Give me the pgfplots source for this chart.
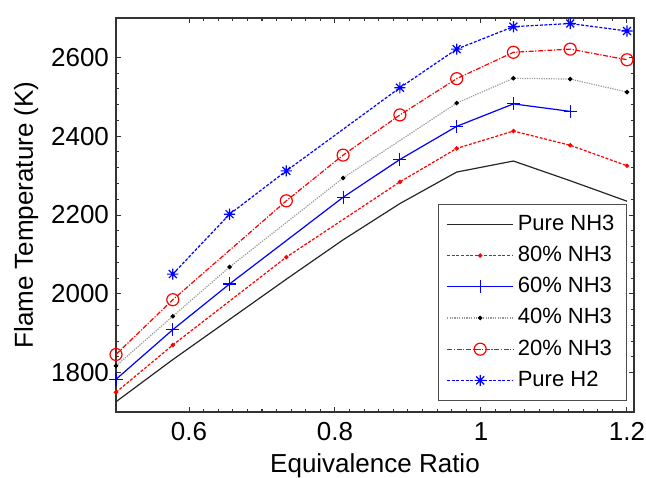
\documentclass[border=0pt]{standalone}
\usepackage{pgfplots}
\pgfplotsset{compat=1.18}
\usepackage{fontspec}
\setmainfont{Liberation Sans}
\pgfdeclareplotmark{mstar}{%
  \pgfpathmoveto{\pgfqpoint{-\pgfplotmarksize}{0pt}}\pgfpathlineto{\pgfqpoint{\pgfplotmarksize}{0pt}}%
  \pgfpathmoveto{\pgfqpoint{0pt}{-\pgfplotmarksize}}\pgfpathlineto{\pgfqpoint{0pt}{\pgfplotmarksize}}%
  \pgfpathmoveto{\pgfqpoint{-0.707\pgfplotmarksize}{-0.707\pgfplotmarksize}}\pgfpathlineto{\pgfqpoint{0.707\pgfplotmarksize}{0.707\pgfplotmarksize}}%
  \pgfpathmoveto{\pgfqpoint{-0.707\pgfplotmarksize}{0.707\pgfplotmarksize}}\pgfpathlineto{\pgfqpoint{0.707\pgfplotmarksize}{-0.707\pgfplotmarksize}}%
  \pgfusepathqstroke}
\definecolor{mred}{RGB}{255,0,0}
\definecolor{mblue}{RGB}{0,0,255}
\begin{document}
\begin{tikzpicture}
\path[use as bounding box] (-58pt,-32.5pt) rectangle (265pt,206pt);
\begin{axis}[
  scale only axis, width=259pt, height=197pt,
  xmin=0.5, xmax=1.2096, ymin=1700, ymax=2700,
  xtick={0.6,0.8,1,1.2}, ytick={1800,2000,2200,2400,2600},
  minor x tick num=9, minor y tick num=4,
  tick align=inside, major tick length=2.5pt, minor tick length=1.5pt,
  axis line style={black!80, line width=0.6pt},
  every tick/.style={black!80, line width=0.5pt},
  scaled ticks=false,
  /pgf/number format/1000 sep={},
  /pgf/number format/assume math mode=true,
  ticklabel style={font=\fontsize{13}{15}\selectfont},
  xticklabel style={yshift=-1.7pt},
  xlabel={Equivalence Ratio}, ylabel={Flame Temperature (K)},
  label style={font=\fontsize{13}{15}\selectfont},
  xlabel style={at={([yshift=-30.3pt]axis description cs:0.5,0)}, anchor=base},
  ylabel style={at={([xshift=-41.5pt]axis description cs:0,0.5)}, anchor=base},
  legend style={at={(axis description cs:0.9865,0.028)}, anchor=south east,
    draw=black!70, line width=0.6pt, inner xsep=4pt, inner ysep=2.2pt,
    font=\fontsize{11}{13}\selectfont,
    nodes={inner xsep=2pt, inner ysep=2.6pt, text height=8.2pt, text depth=2.2pt}},
  legend cell align=left,
  legend image code/.code={\draw[mark repeat=2,mark phase=2,#1] plot coordinates {(0pt,0pt) (16.5pt,0pt) (33pt,0pt)};},
  clip=false,
]
\addplot[black!85, line width=0.6pt, mark=none] coordinates {
(0.5,1726) (0.5778,1833) (0.6556,1935) (0.7333,2037) (0.8111,2137) (0.8889,2229) (0.9667,2309) (1.0444,2337) (1.1222,2287) (1.2,2235)};
\addlegendentry{Pure NH3}
\addplot[mred, line width=0.6pt, dash pattern=on 1.5pt off 0.8pt, mark=*, mark size=0.8pt, mark options={solid}] coordinates {
(0.5,1750) (0.5778,1870) (0.7333,2093) (0.8889,2284) (0.9667,2369) (1.0444,2413) (1.1222,2377) (1.2,2325)};
\addlegendentry{80\% NH3}
\addplot[mblue, line width=0.6pt, mark=+, mark size=3.3pt, mark options={solid}] coordinates {
(0.5,1783) (0.5778,1909) (0.6556,2025) (0.8111,2245) (0.8889,2341) (0.9667,2425) (1.0444,2482) (1.1222,2463)};
\addlegendentry{60\% NH3}
\addplot[gray!80, line width=0.6pt, dash pattern=on 0.6pt off 0.6pt, mark=*, mark size=0.8pt, mark options={solid, black}] coordinates {
(0.5,1817) (0.5778,1943) (0.6556,2068) (0.8111,2294) (0.9667,2484) (1.0444,2547) (1.1222,2545) (1.2,2512)};
\addlegendentry{40\% NH3}
\addplot[mred, line width=0.6pt, dash pattern=on 2.5pt off 0.8pt on 0.6pt off 0.8pt, mark=o, mark size=3pt, mark options={solid}] coordinates {
(0.5,1846) (0.5778,1985) (0.7333,2236) (0.8111,2352) (0.8889,2454) (0.9667,2546) (1.0444,2613) (1.1222,2621) (1.2,2594)};
\addlegendentry{20\% NH3}
\addplot[mblue, line width=0.6pt, dash pattern=on 1.5pt off 0.8pt, mark=mstar, mark size=2.8pt, mark options={solid}] coordinates {
(0.5778,2050) (0.6556,2202) (0.7333,2312) (0.8889,2523) (0.9667,2621) (1.0444,2678) (1.1222,2686) (1.2,2667)};
\addlegendentry{Pure H2}
\end{axis}
\end{tikzpicture}
\end{document}
